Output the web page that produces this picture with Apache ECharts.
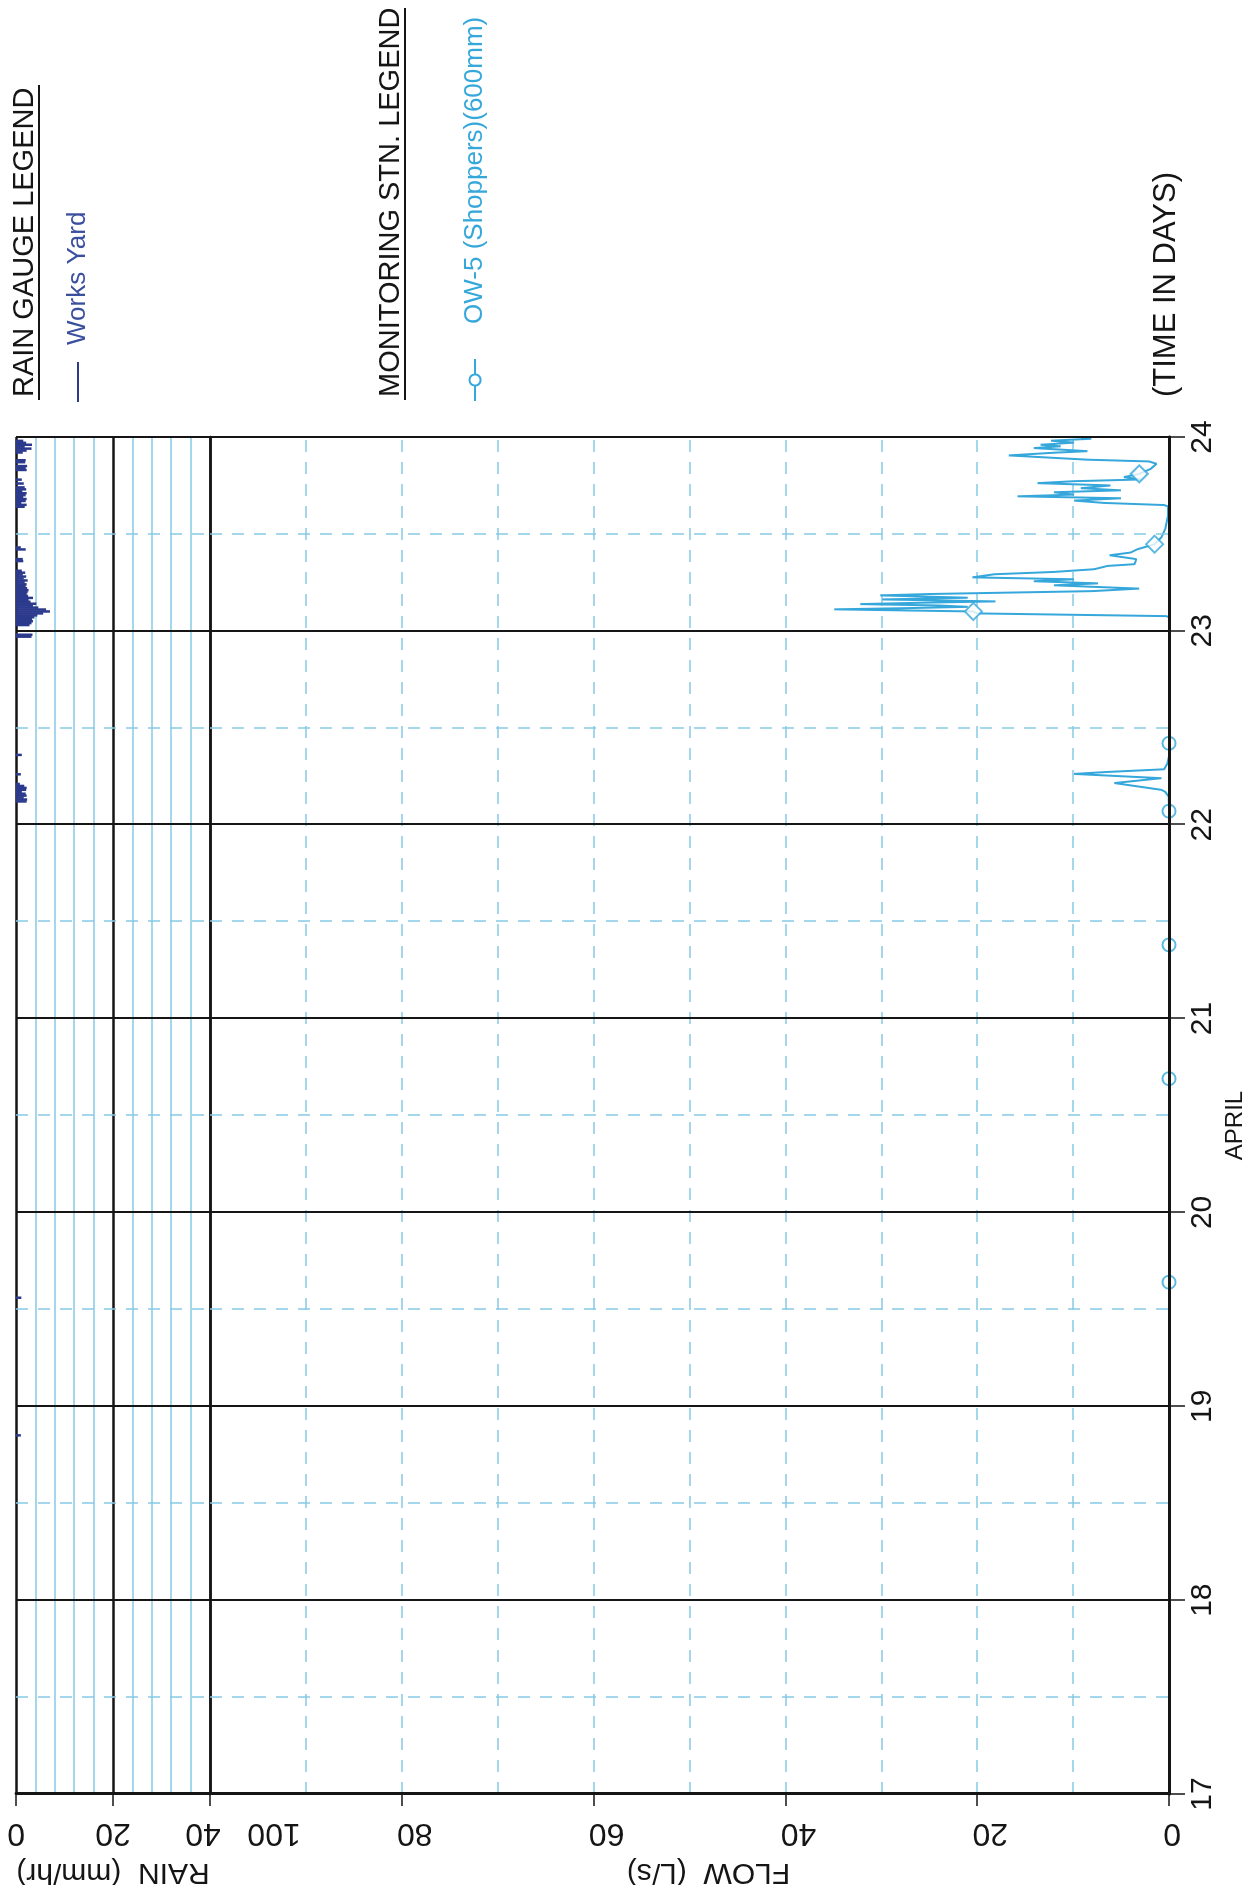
<!DOCTYPE html>
<html>
<head>
<meta charset="utf-8">
<script src="https://cdn.jsdelivr.net/npm/echarts@6/dist/echarts.min.js"></script>
<style>
html,body{margin:0;padding:0;background:#fff;overflow:hidden;width:1246px;height:1885px;}
#wrap{position:absolute;left:0;top:0;width:1885px;height:1246px;transform-origin:0 0;transform:translateY(1885px) rotate(-90deg);background:#fff;}
</style>
</head>
<body>
<div id="wrap"></div>
<script>
// ---- data (time in days of April) ----
const rainDays = [18.85, 19.56,
  22.12, 22.13, 22.14, 22.15, 22.16, 22.17, 22.18, 22.19, 22.20, 22.21, 22.26, 22.36,
  22.97, 22.98,
  23.03, 23.04, 23.05, 23.06, 23.07, 23.08, 23.09, 23.10, 23.11, 23.12, 23.13, 23.14, 23.15, 23.16,
  23.17, 23.18, 23.19, 23.20, 23.21, 23.22, 23.23, 23.24, 23.25, 23.26, 23.27, 23.28, 23.29, 23.30,
  23.31, 23.36, 23.37, 23.42, 23.43,
  23.64, 23.65, 23.66, 23.67, 23.68, 23.69, 23.70, 23.71, 23.72, 23.73, 23.74, 23.76, 23.78,
  23.83, 23.84, 23.85, 23.87, 23.88, 23.92, 23.93, 23.94, 23.95, 23.96, 23.97, 23.98];
const rainValues = [1.0, 1.1,
  2.2, 2.3, 1.6, 2.2, 2.0, 1.2, 2.1, 2.2, 1.7, 0.8, 1.0, 1.2,
  3.2, 3.4,
  2.8, 3.2, 3.5, 3.3, 3.8, 4.4, 5.6, 7.0, 6.2, 4.6, 3.5, 4.2, 3.0, 2.6,
  3.5, 2.5, 2.2, 2.4, 2.6, 2.3, 2.0, 2.2, 1.8, 2.4, 1.6, 2.1, 1.4, 1.9,
  1.2, 1.5, 1.4, 2.0, 1.0,
  1.8, 2.2, 1.1, 2.0, 2.2, 1.5, 2.0, 2.2, 1.3, 2.1, 1.8, 1.6, 1.2,
  2.2, 2.0, 2.3, 1.9, 2.0, 1.4, 2.2, 3.2, 1.8, 3.3, 2.1, 1.5];

const flowDays = [19.50, 22.10, 22.146, 22.17, 22.18, 22.215, 22.24, 22.262, 22.272, 22.286, 22.318, 22.353,
  23.07, 23.076, 23.090, 23.100, 23.111, 23.117, 23.124, 23.131, 23.138, 23.145, 23.152, 23.162, 23.171,
  23.183, 23.190, 23.205, 23.218, 23.235, 23.245, 23.256, 23.266, 23.276, 23.292, 23.304, 23.318, 23.335,
  23.344, 23.370, 23.390, 23.404, 23.421, 23.447, 23.482, 23.525, 23.594, 23.642, 23.649, 23.660, 23.672,
  23.684, 23.694, 23.703, 23.715, 23.725, 23.736, 23.750, 23.762, 23.772, 23.781, 23.793, 23.810, 23.836,
  23.862, 23.874, 23.883, 23.905, 23.919, 23.927, 23.943, 23.952, 23.960, 23.971, 23.981, 23.991, 23.998];
const flowValues = [0, 0, 0.05, 0.4, 0.8, 5.7, 0.8, 9.9, 6.5, 0.5, 0.15, 0,
  0, 0.3, 20.0, 20.4, 34.9, 27.6, 21.0, 24.1, 32.2, 26.0, 18.1, 29.9, 21.0,
  30.1, 25.0, 8.0, 3.1, 12.0, 7.4, 14.1, 9.9, 20.5, 18.2, 12.0, 7.8, 6.4,
  3.6, 3.4, 6.2, 4.0, 3.3, 1.5, 0.8, 0.4, 0.1, 0.1, 0.5, 6.8, 9.9,
  5.0, 15.8, 9.9, 12.0, 5.0, 9.2, 6.1, 13.7, 9.9, 2.9, 4.7, 3.1, 1.9,
  1.3, 2.1, 8.5, 16.7, 12.0, 8.5, 14.1, 11.3, 13.4, 9.9, 12.3, 8.1, 9.2];

const circleMarkerDays = [19.64, 20.69, 21.38, 22.07, 22.42];
const circleMarkerFlows = [0, 0, 0, 0, 0];
const diamondMarkerDays = [23.100, 23.447, 23.810];
const diamondMarkerFlows = [20.4, 1.5, 3.1];

const rainSeriesName = 'Works Yard';
const flowSeriesName = 'OW-5 (Shoppers)(600mm)';

// ---- styles ----
const FONT = '"Liberation Sans", Arial, sans-serif';
const BLACK = '#151515';
const CYAN_GRID = '#86c9e6';
const FLOW_COLOR = '#35a7db';
const RAIN_COLOR = '#2b3a8c';
const LEGEND_BLUE = '#3b4f9f';

const chart = echarts.init(document.getElementById('wrap'), null, {renderer: 'canvas'});

const dashed = {show: true, lineStyle: {color: CYAN_GRID, width: 1.5, type: [12, 10]}};

const option = {
  animation: false,
  backgroundColor: '#ffffff',
  textStyle: {fontFamily: FONT},
  grid: [
    {left: 91, top: 16, width: 1357, height: 194, outerBoundsMode: 'none', containLabel: false},
    {left: 91, top: 210, width: 1357, height: 959, outerBoundsMode: 'none', containLabel: false}
  ],
  xAxis: [
    {
      gridIndex: 0, type: 'value', min: 17, max: 24, interval: 1,
      axisLine: {show: true, onZero: false, lineStyle: {color: BLACK, width: 2.5}},
      axisTick: {show: false}, axisLabel: {show: false},
      splitLine: {show: true, lineStyle: {color: BLACK, width: 2}},
      minorTick: {show: false, splitNumber: 2},
      minorSplitLine: dashed
    },
    {
      gridIndex: 1, type: 'value', min: 17, max: 24, interval: 1, z: 5,
      axisLine: {show: true, onZero: false, lineStyle: {color: BLACK, width: 3}},
      axisTick: {show: true, length: 16, lineStyle: {color: BLACK, width: 1.5}},
      axisLabel: {show: true, fontSize: 30, color: BLACK, margin: 19, fontFamily: FONT},
      name: 'APRIL', nameLocation: 'middle', nameGap: 54, nameMoveOverlap: false,
      nameTextStyle: {fontSize: 24, color: BLACK, fontFamily: FONT, padding: [0, 20, 0, 0]},
      splitLine: {show: true, lineStyle: {color: BLACK, width: 2}},
      minorTick: {show: false, splitNumber: 2},
      minorSplitLine: dashed
    }
  ],
  yAxis: [
    {
      gridIndex: 0, type: 'value', min: 0, max: 40, interval: 20, inverse: true,
      axisLine: {show: true, onZero: false, lineStyle: {color: BLACK, width: 3}},
      axisTick: {show: true, length: 12, lineStyle: {color: BLACK, width: 1.5}},
      axisLabel: {
        rotate: 90, margin: 23, color: BLACK, fontSize: 32, fontFamily: FONT,
        formatter: function (v) { return v === 40 ? '{e|' + v + '}' : '{n|' + v + '}'; },
        rich: {
          n: {fontSize: 32, fontFamily: FONT, color: BLACK, padding: [0, 0, 0, 0]},
          e: {fontSize: 32, fontFamily: FONT, color: BLACK, padding: [0, 0, 0, 14]}
        }
      },
      name: 'RAIN  (mm/hr)', nameLocation: 'middle', nameGap: 63, nameRotate: 90, nameMoveOverlap: false,
      nameTextStyle: {fontSize: 30, color: BLACK, fontFamily: FONT},
      splitLine: {show: true, lineStyle: {color: BLACK, width: 2.5}},
      minorTick: {show: false, splitNumber: 5},
      minorSplitLine: {show: true, lineStyle: {color: CYAN_GRID, width: 1.5}}
    },
    {
      gridIndex: 1, type: 'value', min: 0, max: 100, interval: 20,
      axisLine: {show: true, onZero: false, lineStyle: {color: BLACK, width: 3}},
      axisTick: {show: true, length: 12, lineStyle: {color: BLACK, width: 1.5}},
      axisLabel: {
        rotate: 90, margin: 23, color: BLACK, fontSize: 32, fontFamily: FONT,
        formatter: function (v) {
          if (v === 100) return '{far|' + v + '}';
          if (v === 0) return '{z|' + v + '}';
          return '{n|' + v + '}';
        },
        rich: {
          n: {fontSize: 32, fontFamily: FONT, color: BLACK, padding: [0, 26, 0, 0]},
          z: {fontSize: 32, fontFamily: FONT, color: BLACK, padding: [0, 6, 0, 0]},
          far: {fontSize: 32, fontFamily: FONT, color: BLACK, padding: [0, 128, 0, 0]}
        }
      },
      name: 'FLOW  (L/s)', nameLocation: 'middle', nameGap: 63, nameRotate: 90, nameMoveOverlap: false,
      nameTextStyle: {fontSize: 30, color: BLACK, fontFamily: FONT, padding: [0, 38, 0, 0]},
      splitLine: {show: true, showMinLine: false, showMaxLine: false, lineStyle: {color: CYAN_GRID, width: 1.5, type: [12, 10]}},
      minorTick: {show: false, splitNumber: 2},
      minorSplitLine: dashed
    }
  ],
  legend: [
    {
      data: [rainSeriesName], left: 1478, top: 60, orient: 'horizontal', icon: 'rect',
      itemWidth: 40, itemHeight: 2, selectedMode: false,
      textStyle: {color: LEGEND_BLUE, fontSize: 26, fontFamily: FONT, padding: [0, 0, 0, 12]}
    },
    {
      data: [flowSeriesName], left: 1478, top: 457, orient: 'horizontal',
      itemWidth: 42, itemHeight: 14, selectedMode: false,
      textStyle: {color: FLOW_COLOR, fontSize: 26, fontFamily: FONT, padding: [0, 0, 0, 30]}
    }
  ],
  graphic: [
    {type: 'text', left: 1488, top: 10, style: {text: 'RAIN GAUGE LEGEND', fontSize: 29, fontFamily: FONT, fill: BLACK}},
    {type: 'line', shape: {x1: 1485, y1: 39, x2: 1800, y2: 39}, style: {stroke: BLACK, lineWidth: 2}},
    {type: 'text', left: 1488, top: 376, style: {text: 'MONITORING STN. LEGEND', fontSize: 29, fontFamily: FONT, fill: BLACK}},
    {type: 'line', shape: {x1: 1485, y1: 405, x2: 1877, y2: 405}, style: {stroke: BLACK, lineWidth: 2}},
    {type: 'text', left: 1488, top: 1151, style: {text: '(TIME IN DAYS)', fontSize: 31, fontFamily: FONT, fill: BLACK}}
  ],
  series: [
    {
      name: rainSeriesName, type: 'bar', xAxisIndex: 0, yAxisIndex: 0, barWidth: 2.5, z: 3,
      itemStyle: {color: RAIN_COLOR},
      data: rainDays.map(function (d, i) { return [d, rainValues[i]]; })
    },
    {
      name: flowSeriesName, type: 'line', xAxisIndex: 1, yAxisIndex: 1, z: 3,
      symbol: 'emptyCircle', symbolSize: 12, showSymbol: false,
      lineStyle: {color: FLOW_COLOR, width: 2},
      itemStyle: {color: FLOW_COLOR, borderColor: FLOW_COLOR, borderWidth: 2},
      data: flowDays.map(function (d, i) { return [d, flowValues[i]]; })
    },
    {
      name: 'OW-5 markers', type: 'scatter', xAxisIndex: 1, yAxisIndex: 1, z: 4,
      itemStyle: {color: '#ffffff', borderColor: FLOW_COLOR, borderWidth: 2},
      data: circleMarkerDays.map(function (d, i) {
        return {value: [d, circleMarkerFlows[i]], symbol: 'circle', symbolSize: 13};
      }).concat(diamondMarkerDays.map(function (d, i) {
        return {value: [d, diamondMarkerFlows[i]], symbol: 'diamond', symbolSize: 17};
      }))
    }
  ]
};
chart.setOption(option);
</script>
</body>
</html>
